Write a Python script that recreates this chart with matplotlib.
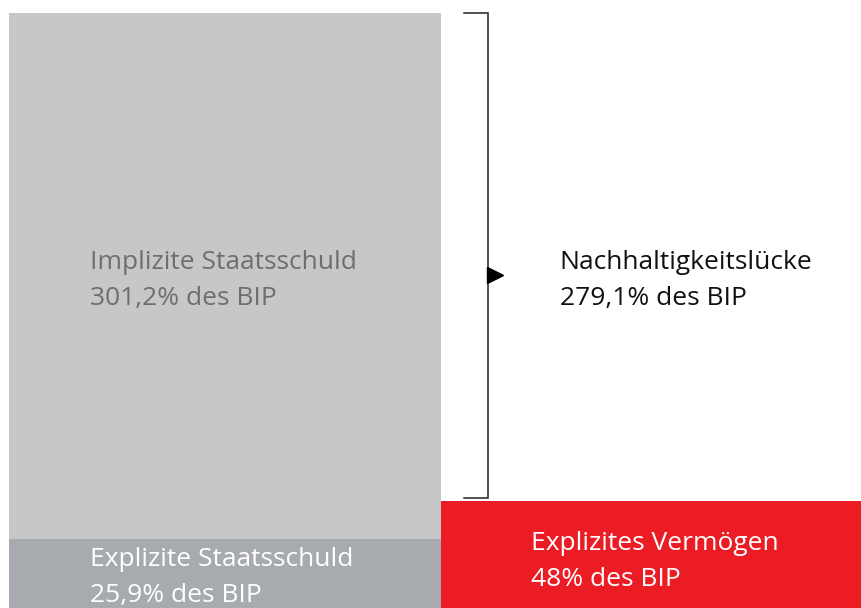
import matplotlib.pyplot as plt

# values in % of GDP
implicit_debt = 301.2
explicit_debt = 25.9
explicit_assets = 48.0
gap = 279.1

labels_left = ["Implizite Staatsschuld", "Explizite Staatsschuld"]
values_left = ["301,2% des BIP", "25,9% des BIP"]
label_right = "Explizites Vermögen"
value_right = "48% des BIP"
label_gap = "Nachhaltigkeitslücke"
value_gap = "279,1% des BIP"

c_light = "#c6c7c9"
c_dark = "#a7aaaf"
c_red = "#ec1c24"

plt.rcParams["font.family"] = ["Open Sans", "DejaVu Sans"]

fig = plt.figure(figsize=(8.61, 6.08), dpi=100)
ax = fig.add_axes([0, 0, 1, 1])

y_floor = -14
total = explicit_debt + implicit_debt

# left column: explicit debt + implicit debt stacked
ax.bar(0, explicit_debt - y_floor, bottom=y_floor, width=1, align="edge", color=c_dark, lw=0)
ax.bar(0, implicit_debt, bottom=explicit_debt, width=1, align="edge", color=c_light, lw=0)
# right column: explicit assets
ax.bar(1, explicit_assets - y_floor, bottom=y_floor, width=1.2, align="edge", color=c_red, lw=0)

# bracket for the sustainability gap
bx = 1.109
top = total
bottom = total - gap + 1.7
ax.plot([1.053, bx, bx, 1.053], [top, top, bottom, bottom], color="#222222", lw=1.1,
        solid_joinstyle="miter")
ax.plot(1.125, 177.2, marker=">", color="black", markersize=11)

fs = 19
lh = 20.6
ax.text(0.1875, 180.6, labels_left[0], color="#6d6e70", fontsize=fs, va="baseline")
ax.text(0.1875, 180.6 - lh, values_left[0], color="#6d6e70", fontsize=fs, va="baseline")
ax.text(0.1875, 10.7, labels_left[1], color="white", fontsize=fs, va="baseline")
ax.text(0.1875, 10.7 - lh, values_left[1], color="white", fontsize=fs, va="baseline")
ax.text(1.275, 180.6, label_gap, color="#111111", fontsize=fs, va="baseline")
ax.text(1.275, 180.6 - lh, value_gap, color="#111111", fontsize=fs, va="baseline")
ax.text(1.208, 19.9, label_right, color="white", fontsize=fs, va="baseline")
ax.text(1.208, 19.9 - lh, value_right, color="white", fontsize=fs, va="baseline")

ax.set_xlim(-0.0208, 1.972)
ax.set_ylim(-13.3, 334.5)
ax.axis("off")

fig.savefig("out.png", dpi=100)
